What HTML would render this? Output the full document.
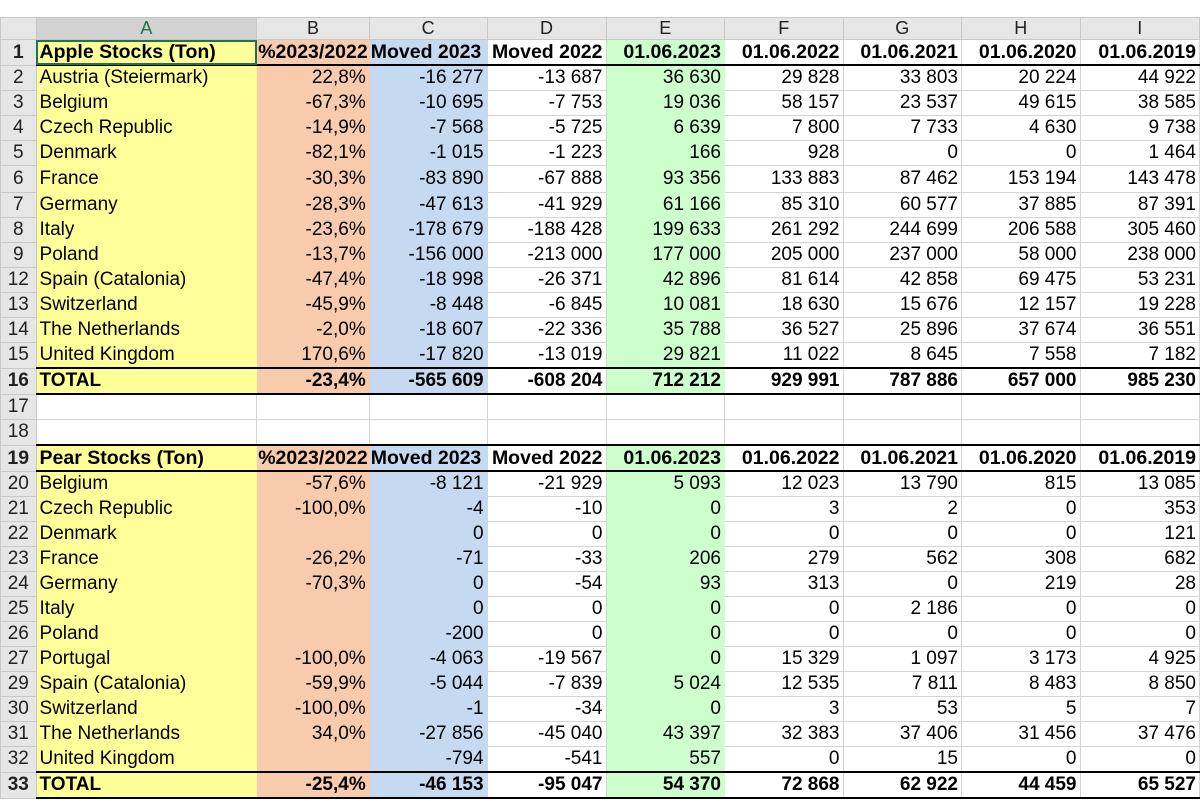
<!DOCTYPE html>
<html><head><meta charset="utf-8"><style>
body{margin:0;width:1200px;height:800px;overflow:hidden;background:#fff;font-family:"Liberation Sans",Arial,sans-serif;}
table{position:absolute;left:0;top:17px;border-collapse:collapse;table-layout:fixed;}
td{padding:0 3px;font-size:19px;white-space:nowrap;overflow:hidden;border:1px solid #d4d4d4;text-align:right;color:#000;height:24px;line-height:24px}
td.n{background:#e6e6e6;text-align:center;color:#222;border-color:#c8c8c8;padding:0}
tr.h td{background:#e6e6e6;text-align:center;font-size:18px;color:#222;height:21px;line-height:21px;border-color:#c8c8c8}
td.a{background:#ffff99;border-color:#ffff99;text-align:left}
td.b{background:#f8cbad;border-color:#f8cbad}
td.c{background:#c5d9f1;border-color:#c5d9f1}
td.e{background:#ccffcc;border-color:#ccffcc}
tr.k td:not(.n){border-bottom:2px solid #000}
tr.bd td{font-weight:bold}
tr.hd td{font-weight:bold;font-size:19.5px}
td.cl{text-align:left;padding:0 1px;text-overflow:clip}
</style></head><body>
<table>
<colgroup><col style="width:36px"><col style="width:222px"><col style="width:109px"><col style="width:118px"><col style="width:119px"><col style="width:119px"><col style="width:119px"><col style="width:119px"><col style="width:119px"><col style="width:120px"></colgroup>
<tr class="h"><td style="background:#e6e6e6"></td><td style="background:#d2d2d2;color:#217346">A</td><td>B</td><td>C</td><td>D</td><td>E</td><td>F</td><td>G</td><td>H</td><td>I</td></tr>
<tr class="k hd"><td class="n">1</td><td class="a" style="outline:2px solid #217346;outline-offset:-2px">Apple Stocks (Ton)</td><td class="b cl">%2023/2022</td><td class="c cl">Moved 2023</td><td>Moved 2022</td><td class="e">01.06.2023</td><td>01.06.2022</td><td>01.06.2021</td><td>01.06.2020</td><td>01.06.2019</td></tr>
<tr><td class="n">2</td><td class="a">Austria (Steiermark)</td><td class="b">22,8%</td><td class="c">-16 277</td><td>-13 687</td><td class="e">36 630</td><td>29 828</td><td>33 803</td><td>20 224</td><td>44 922</td></tr>
<tr><td class="n">3</td><td class="a">Belgium</td><td class="b">-67,3%</td><td class="c">-10 695</td><td>-7 753</td><td class="e">19 036</td><td>58 157</td><td>23 537</td><td>49 615</td><td>38 585</td></tr>
<tr><td class="n">4</td><td class="a">Czech Republic</td><td class="b">-14,9%</td><td class="c">-7 568</td><td>-5 725</td><td class="e">6 639</td><td>7 800</td><td>7 733</td><td>4 630</td><td>9 738</td></tr>
<tr><td class="n">5</td><td class="a">Denmark</td><td class="b">-82,1%</td><td class="c">-1 015</td><td>-1 223</td><td class="e">166</td><td>928</td><td>0</td><td>0</td><td>1 464</td></tr>
<tr><td class="n" style="height:26px">6</td><td class="a">France</td><td class="b">-30,3%</td><td class="c">-83 890</td><td>-67 888</td><td class="e">93 356</td><td>133 883</td><td>87 462</td><td>153 194</td><td>143 478</td></tr>
<tr><td class="n">7</td><td class="a">Germany</td><td class="b">-28,3%</td><td class="c">-47 613</td><td>-41 929</td><td class="e">61 166</td><td>85 310</td><td>60 577</td><td>37 885</td><td>87 391</td></tr>
<tr><td class="n">8</td><td class="a">Italy</td><td class="b">-23,6%</td><td class="c">-178 679</td><td>-188 428</td><td class="e">199 633</td><td>261 292</td><td>244 699</td><td>206 588</td><td>305 460</td></tr>
<tr><td class="n">9</td><td class="a">Poland</td><td class="b">-13,7%</td><td class="c">-156 000</td><td>-213 000</td><td class="e">177 000</td><td>205 000</td><td>237 000</td><td>58 000</td><td>238 000</td></tr>
<tr><td class="n">12</td><td class="a">Spain (Catalonia)</td><td class="b">-47,4%</td><td class="c">-18 998</td><td>-26 371</td><td class="e">42 896</td><td>81 614</td><td>42 858</td><td>69 475</td><td>53 231</td></tr>
<tr><td class="n">13</td><td class="a">Switzerland</td><td class="b">-45,9%</td><td class="c">-8 448</td><td>-6 845</td><td class="e">10 081</td><td>18 630</td><td>15 676</td><td>12 157</td><td>19 228</td></tr>
<tr><td class="n">14</td><td class="a">The Netherlands</td><td class="b">-2,0%</td><td class="c">-18 607</td><td>-22 336</td><td class="e">35 788</td><td>36 527</td><td>25 896</td><td>37 674</td><td>36 551</td></tr>
<tr class="k"><td class="n">15</td><td class="a">United Kingdom</td><td class="b">170,6%</td><td class="c">-17 820</td><td>-13 019</td><td class="e">29 821</td><td>11 022</td><td>8 645</td><td>7 558</td><td>7 182</td></tr>
<tr class="k bd"><td class="n">16</td><td class="a">TOTAL</td><td class="b">-23,4%</td><td class="c">-565 609</td><td>-608 204</td><td class="e">712 212</td><td>929 991</td><td>787 886</td><td>657 000</td><td>985 230</td></tr>
<tr><td class="n">17</td><td></td><td></td><td></td><td></td><td></td><td></td><td></td><td></td><td></td></tr>
<tr class="k"><td class="n">18</td><td></td><td></td><td></td><td></td><td></td><td></td><td></td><td></td><td></td></tr>
<tr class="k hd"><td class="n">19</td><td class="a">Pear Stocks (Ton)</td><td class="b cl">%2023/2022</td><td class="c cl">Moved 2023</td><td>Moved 2022</td><td class="e">01.06.2023</td><td>01.06.2022</td><td>01.06.2021</td><td>01.06.2020</td><td>01.06.2019</td></tr>
<tr><td class="n">20</td><td class="a">Belgium</td><td class="b">-57,6%</td><td class="c">-8 121</td><td>-21 929</td><td class="e">5 093</td><td>12 023</td><td>13 790</td><td>815</td><td>13 085</td></tr>
<tr><td class="n">21</td><td class="a">Czech Republic</td><td class="b">-100,0%</td><td class="c">-4</td><td>-10</td><td class="e">0</td><td>3</td><td>2</td><td>0</td><td>353</td></tr>
<tr><td class="n">22</td><td class="a">Denmark</td><td class="b"></td><td class="c">0</td><td>0</td><td class="e">0</td><td>0</td><td>0</td><td>0</td><td>121</td></tr>
<tr><td class="n">23</td><td class="a">France</td><td class="b">-26,2%</td><td class="c">-71</td><td>-33</td><td class="e">206</td><td>279</td><td>562</td><td>308</td><td>682</td></tr>
<tr><td class="n">24</td><td class="a">Germany</td><td class="b">-70,3%</td><td class="c">0</td><td>-54</td><td class="e">93</td><td>313</td><td>0</td><td>219</td><td>28</td></tr>
<tr><td class="n">25</td><td class="a">Italy</td><td class="b"></td><td class="c">0</td><td>0</td><td class="e">0</td><td>0</td><td>2 186</td><td>0</td><td>0</td></tr>
<tr><td class="n">26</td><td class="a">Poland</td><td class="b"></td><td class="c">-200</td><td>0</td><td class="e">0</td><td>0</td><td>0</td><td>0</td><td>0</td></tr>
<tr><td class="n">27</td><td class="a">Portugal</td><td class="b">-100,0%</td><td class="c">-4 063</td><td>-19 567</td><td class="e">0</td><td>15 329</td><td>1 097</td><td>3 173</td><td>4 925</td></tr>
<tr><td class="n">29</td><td class="a">Spain (Catalonia)</td><td class="b">-59,9%</td><td class="c">-5 044</td><td>-7 839</td><td class="e">5 024</td><td>12 535</td><td>7 811</td><td>8 483</td><td>8 850</td></tr>
<tr><td class="n">30</td><td class="a">Switzerland</td><td class="b">-100,0%</td><td class="c">-1</td><td>-34</td><td class="e">0</td><td>3</td><td>53</td><td>5</td><td>7</td></tr>
<tr><td class="n">31</td><td class="a">The Netherlands</td><td class="b">34,0%</td><td class="c">-27 856</td><td>-45 040</td><td class="e">43 397</td><td>32 383</td><td>37 406</td><td>31 456</td><td>37 476</td></tr>
<tr class="k"><td class="n">32</td><td class="a">United Kingdom</td><td class="b"></td><td class="c">-794</td><td>-541</td><td class="e">557</td><td>0</td><td>15</td><td>0</td><td>0</td></tr>
<tr class="k bd"><td class="n">33</td><td class="a">TOTAL</td><td class="b">-25,4%</td><td class="c">-46 153</td><td>-95 047</td><td class="e">54 370</td><td>72 868</td><td>62 922</td><td>44 459</td><td>65 527</td></tr>
</table>
</body></html>
